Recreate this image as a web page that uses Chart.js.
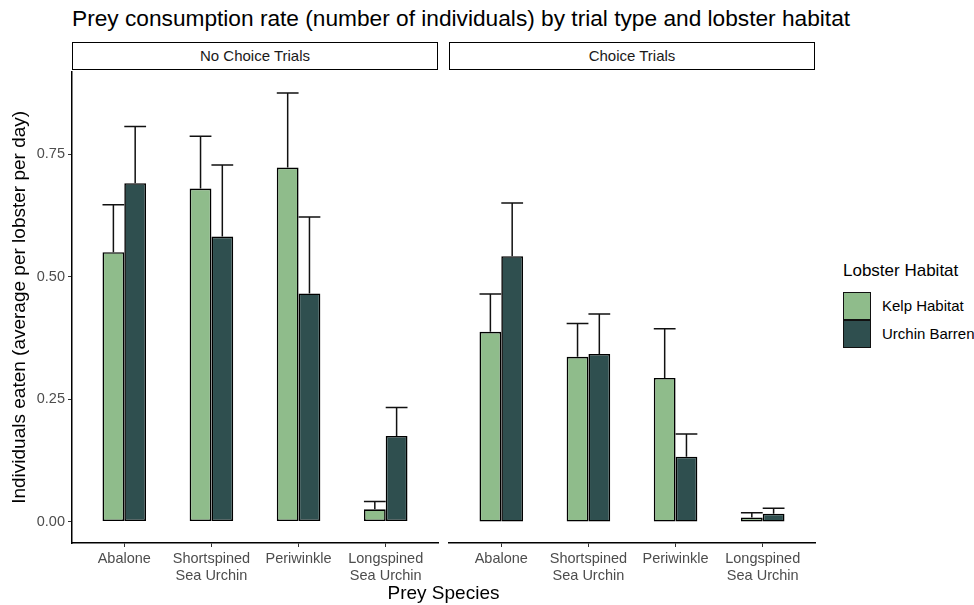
<!DOCTYPE html>
<html>
<head>
<meta charset="utf-8">
<script src="https://cdn.jsdelivr.net/npm/chart.js@4.4.1/dist/chart.umd.min.js"></script>
<style>
  body { margin: 0; background: #fff; font-family: "Liberation Sans", Arial, sans-serif; }
  #page { position: relative; width: 974px; height: 605px; overflow: hidden; }
  .abs { position: absolute; }
  #titulo { left: 72px; top: 5px; font-size: 22.7px; color: #000; white-space: nowrap; }
  .strip { box-sizing: border-box; height: 28px; top: 42px; width: 366px; border: 1.5px solid #000;
           font-size: 15px; text-align: center; line-height: 25px; color: #1a1a1a; }
  #xtitulo { left: 72px; width: 743px; top: 582px; text-align: center; font-size: 19px; color: #000; }
  #leyenda-titulo { left: 843px; top: 261px; font-size: 17px; color: #000; white-space: nowrap; }
  .clave { box-sizing: border-box; left: 843px; width: 28px; height: 28px; border: 1.5px solid #111; }
  .etiqueta { left: 882px; font-size: 15px; color: #000; white-space: nowrap; }
  canvas { position: absolute; }
</style>
</head>
<body>
<div id="page">
  <div id="titulo" class="abs">Prey consumption rate (number of individuals) by trial type and lobster habitat</div>
  <div class="abs strip" style="left:72px">No Choice Trials</div>
  <div class="abs strip" style="left:449px">Choice Trials</div>
  <canvas id="panel-sin" width="440" height="545" style="left:0;top:60px"></canvas>
  <canvas id="panel-con" width="370" height="545" style="left:447px;top:60px"></canvas>
  <div id="xtitulo" class="abs">Prey Species</div>
  <div id="leyenda-titulo" class="abs">Lobster Habitat</div>
  <div class="abs clave" style="top:292px;background:#8FBC8B"></div>
  <div class="abs clave" style="top:320px;background:#2F4F4F"></div>
  <div class="abs etiqueta" style="top:297px">Kelp Habitat</div>
  <div class="abs etiqueta" style="top:325px">Urchin Barren</div>
</div>
<script>
// Datos
const especies = [['Abalone'], ['Shortspined', 'Sea Urchin'], ['Periwinkle'], ['Longspined', 'Sea Urchin']];
const ticksX = [0, 1, 2, 3];
const ticksY = [0, 0.25, 0.5, 0.75];

const sinEleccionKelp = [0.550, 0.680, 0.723, 0.025];
const sinEleccionKelpSup = [0.647, 0.787, 0.875, 0.041];
const sinEleccionBarren = [0.691, 0.582, 0.466, 0.175];
const sinEleccionBarrenSup = [0.807, 0.728, 0.622, 0.233];

const conEleccionKelp = [0.386, 0.335, 0.292, 0.008];
const conEleccionKelpSup = [0.463, 0.403, 0.392, 0.018];
const conEleccionBarren = [0.540, 0.341, 0.132, 0.016];
const conEleccionBarrenSup = [0.648, 0.422, 0.178, 0.027];

Chart.defaults.font.family = '"Liberation Sans", Arial, sans-serif';

// Barras de error (solo el extremo superior)
const barrasError = {
    id: 'barrasError',
    afterDatasetsDraw(chart) {
        const ctx = chart.ctx;
        const y = chart.scales.y;
        ctx.save();
        ctx.strokeStyle = '#111';
        ctx.lineWidth = 1.5;
        chart.data.datasets.forEach((ds, di) => {
            chart.getDatasetMeta(di).data.forEach((barra, i) => {
                const arriba = y.getPixelForValue(ds.superior[i]);
                const w = barra.width;
                ctx.beginPath();
                ctx.moveTo(barra.x, barra.y);
                ctx.lineTo(barra.x, arriba);
                ctx.moveTo(barra.x - w / 2, arriba);
                ctx.lineTo(barra.x + w / 2, arriba);
                ctx.stroke();
            });
        });
        ctx.restore();
    }
};

function serie(nombre, valores, superior, color) {
    return {
        label: nombre,
        data: valores.map((v, i) => ({ x: i, y: v })),
        superior: superior,
        backgroundColor: color,
        borderColor: '#000',
        borderWidth: 1.6,
        borderSkipped: false,
        categoryPercentage: 0.5,
        barPercentage: 1.0
    };
}

function crearPanel(id, kelp, kelpSup, barren, barrenSup, conEjeY) {
    const ejeGrid = { drawOnChartArea: false, drawTicks: true, tickLength: 4, color: '#333', offset: false };
    return new Chart(document.getElementById(id), {
        type: 'bar',
        data: {
            datasets: [
                serie('Kelp Habitat', kelp, kelpSup, '#8FBC8B'),
                serie('Urchin Barren', barren, barrenSup, '#2F4F4F')
            ]
        },
        options: {
            responsive: false,
            animation: false,
            layout: { padding: { top: 10, right: 2, left: conEjeY ? 0 : 2, bottom: 0 } },
            plugins: { legend: { display: false }, tooltip: { enabled: false } },
            scales: {
                x: {
                    type: 'linear',
                    min: -0.6,
                    max: 3.6,
                    offset: false,
                    grid: ejeGrid,
                    border: { display: true, color: '#000', width: 1.5 },
                    afterBuildTicks: s => { s.ticks = ticksX.map(v => ({ value: v })); },
                    afterFit: s => { s.height = 62; },
                    ticks: {
                        autoSkip: false,
                        maxRotation: 0,
                        color: '#4d4d4d',
                        font: { size: 14.5 },
                        padding: 3,
                        callback: v => especies[v]
                    }
                },
                y: {
                    display: conEjeY,
                    min: -0.04375,
                    max: 0.91875,
                    grid: ejeGrid,
                    border: { display: true, color: '#000', width: 1.5 },
                    afterBuildTicks: s => { s.ticks = ticksY.map(v => ({ value: v })); },
                    afterFit: s => { s.width = conEjeY ? 72 : 0; },
                    ticks: {
                        color: '#4d4d4d',
                        font: { size: 14.5 },
                        padding: 3,
                        callback: v => v.toFixed(2)
                    },
                    title: {
                        display: true,
                        text: 'Individuals eaten (average per lobster per day)',
                        color: '#000',
                        font: { size: 19 },
                        padding: { top: 8, bottom: 0 }
                    }
                }
            }
        },
        plugins: [barrasError]
    });
}

crearPanel('panel-sin', sinEleccionKelp, sinEleccionKelpSup, sinEleccionBarren, sinEleccionBarrenSup, true);
crearPanel('panel-con', conEleccionKelp, conEleccionKelpSup, conEleccionBarren, conEleccionBarrenSup, false);
</script>
</body>
</html>
